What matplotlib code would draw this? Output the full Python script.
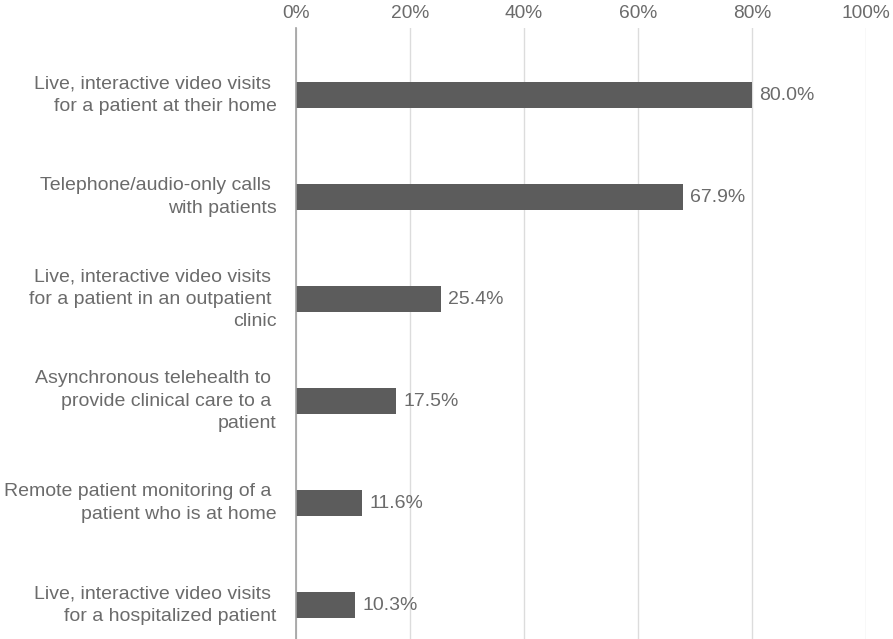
import matplotlib
matplotlib.use("Agg")
import matplotlib.pyplot as plt
from matplotlib.ticker import FuncFormatter

categories = [
    "Live, interactive video visits \nfor a patient at their home",
    "Telephone/audio-only calls \nwith patients",
    "Live, interactive video visits \nfor a patient in an outpatient \nclinic",
    "Asynchronous telehealth to \nprovide clinical care to a \npatient",
    "Remote patient monitoring of a \npatient who is at home",
    "Live, interactive video visits \nfor a hospitalized patient",
]
values = [80.0, 67.9, 25.4, 17.5, 11.6, 10.3]
xticks = [0, 20, 40, 60, 80, 100]

plt.rcParams['font.family'] = ['Liberation Sans', 'DejaVu Sans']
text_color = '#6b6b6b'
bar_color = '#5c5c5c'

fig = plt.figure(figsize=(8.93, 6.39), dpi=100)
ax = fig.add_axes([296/893, 0.0, (866-296)/893, 1 - 28/639])

ypos = list(range(len(categories)))
ax.barh(ypos, values, height=0.255, color=bar_color, zorder=3)
ax.set_xlim(0, 100)
ax.set_ylim(5 + 34/102, -67/102)

ax.set_xticks(xticks)
ax.xaxis.set_major_formatter(FuncFormatter(lambda v, p: f"{v:.0f}%"))
ax.xaxis.tick_top()
ax.tick_params(axis='x', length=0, pad=4.5, labelsize=13.8, labelcolor=text_color)
ax.grid(axis='x', color='#dcdcdc', linewidth=1, zorder=0)
ax.set_yticks(ypos)
ax.set_yticklabels(categories, fontsize=14.0, color=text_color, linespacing=1.42)
for lbl in ax.get_yticklabels():
    lbl.set_va('center')
ax.tick_params(axis='y', length=0, pad=14)

for s in ['top', 'right', 'bottom']:
    ax.spines[s].set_visible(False)
ax.spines['left'].set_color('#a0a0a0')
ax.spines['left'].set_linewidth(1.2)
ax.spines['left'].set_zorder(4)

for y, v in zip(ypos, values):
    ax.text(v + 1.3, y, f"{v:.1f}%", va='center', ha='left', fontsize=14.0, color=text_color)

fig.savefig("out.png", dpi=100)
